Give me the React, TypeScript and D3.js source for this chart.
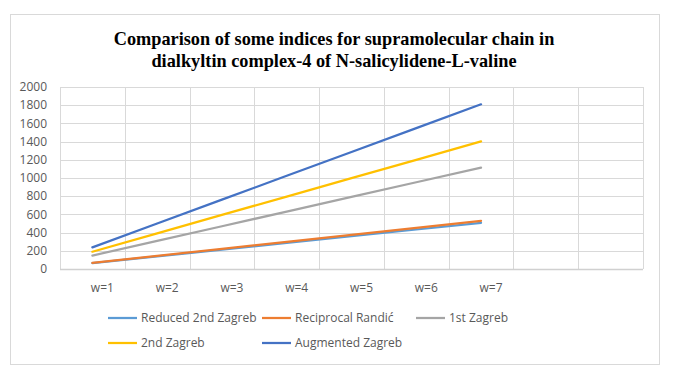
import React from "react";
import * as d3 from "d3";

// categories (last two are empty slots on the axis)
const categories = ["w=1", "w=2", "w=3", "w=4", "w=5", "w=6", "w=7", "", " "];
const wLabels = ["w=1", "w=2", "w=3", "w=4", "w=5", "w=6", "w=7"];
const yTicks = [0, 200, 400, 600, 800, 1000, 1200, 1400, 1600, 1800, 2000];

const reduced2ndZagreb = [64, 138, 212, 286, 360, 434, 508];
const reciprocalRandic = [68, 145, 222, 298, 375, 452, 530];
const firstZagreb = [148, 309, 470, 631, 792, 953, 1114];
const secondZagreb = [190, 392, 594, 796, 998, 1200, 1402];
const augmentedZagreb = [238, 500, 762, 1024, 1286, 1548, 1810];

const series = [
  { name: "Reduced 2nd Zagreb", values: reduced2ndZagreb, color: "#5B9BD5" },
  { name: "Reciprocal Randić", values: reciprocalRandic, color: "#ED7D31" },
  { name: "1st Zagreb", values: firstZagreb, color: "#A5A5A5" },
  { name: "2nd Zagreb", values: secondZagreb, color: "#FFC000" },
  { name: "Augmented Zagreb", values: augmentedZagreb, color: "#4472C4" },
];

const W = 680;
const H = 380;
const plot = { left: 60, right: 643, top: 87, bottom: 269 };
const font = "'Open Sans', 'Noto Sans', sans-serif";

export default function App() {
  const x = d3.scaleBand().domain(categories).range([plot.left, plot.right]);
  const y = d3.scaleLinear().domain([0, 2000]).range([plot.bottom, plot.top]);

  const line = d3
    .line<number>()
    .x((_, i) => (x(categories[i]) as number) + x.bandwidth() / 2)
    .y((d) => y(d));

  // legend layout: two rows, three slots
  const legendX = [108, 262, 416];
  const legendY = [318, 343];

  return (
    <svg
      width={W}
      height={H}
      style={{ position: "absolute", left: 0, top: 0, background: "#fff" }}
    >
      <rect x={10.5} y={14.5} width={649} height={350} fill="#fff" stroke="#d9d9d9" />
      <text
        x={334}
        y={45}
        textAnchor="middle"
        fontFamily="'Liberation Serif', 'Times New Roman', serif"
        fontWeight="bold"
        fontSize={18.3}
        fill="#000"
      >
        <tspan x={334} dy={0}>Comparison of some indices for supramolecular chain in</tspan>
        <tspan x={334} dy={22}>dialkyltin complex-4 of N-salicylidene-L-valine</tspan>
      </text>

      {/* horizontal grid */}
      {yTicks.map((t) => (
        <line
          key={"h" + t}
          x1={plot.left}
          x2={plot.right}
          y1={Math.round(y(t)) + 0.5}
          y2={Math.round(y(t)) + 0.5}
          stroke="#d9d9d9"
          strokeWidth={1}
        />
      ))}
      {/* vertical grid */}
      {categories.map((c) => (
        <line
          key={"v" + c}
          x1={Math.round(x(c) as number) + 0.5}
          x2={Math.round(x(c) as number) + 0.5}
          y1={plot.top}
          y2={plot.bottom}
          stroke="#d9d9d9"
        />
      ))}
      <line
        x1={plot.right + 0.5}
        x2={plot.right + 0.5}
        y1={plot.top}
        y2={plot.bottom}
        stroke="#d9d9d9"
      />
      <line
        x1={plot.left}
        x2={plot.right}
        y1={plot.bottom + 0.5}
        y2={plot.bottom + 0.5}
        stroke="#d0d0d0"
        strokeWidth={1.5}
      />

      {/* y tick labels */}
      {yTicks.map((t) => (
        <text
          key={"yt" + t}
          x={47}
          y={y(t)}
          dy="0.35em"
          textAnchor="end"
          fontFamily={font}
          fontSize={12}
          fill="#595959"
        >
          {t}
        </text>
      ))}

      {/* x tick labels */}
      {wLabels.map((c) => (
        <text
          key={"xt" + c}
          x={(x(c) as number) + x.bandwidth() / 2 + 10}
          y={292}
          textAnchor="middle"
          fontFamily={font}
          fontSize={12}
          fill="#595959"
        >
          {c}
        </text>
      ))}

      {/* series lines */}
      {series.map((s) => (
        <path
          key={s.name}
          d={line(s.values) || ""}
          fill="none"
          stroke={s.color}
          strokeWidth={2.25}
          strokeLinecap="round"
        />
      ))}

      {/* legend */}
      {series.map((s, i) => {
        const lx = legendX[i % 3];
        const ly = legendY[Math.floor(i / 3)];
        return (
          <g key={"lg" + s.name}>
            <line x1={lx} x2={lx + 29} y1={ly} y2={ly} stroke={s.color} strokeWidth={2.25} />
            <text
              x={lx + 33}
              y={ly}
              dy="0.35em"
              fontFamily={font}
              fontSize={12}
              fill="#595959"
            >
              {s.name}
            </text>
          </g>
        );
      })}
    </svg>
  );
}
